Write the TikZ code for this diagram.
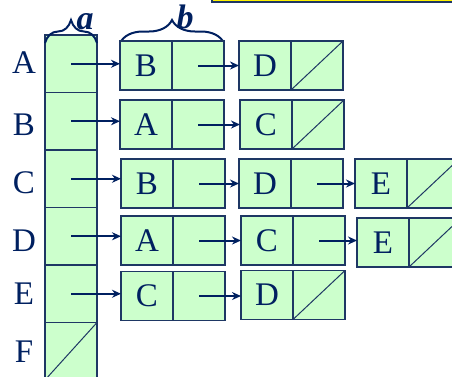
\documentclass[tikz,border=0pt]{standalone}
\usepackage{fontspec}
\setmainfont{Liberation Serif}
\usetikzlibrary{positioning,arrows.meta,decorations.pathreplacing}
\definecolor{xanhnhat}{RGB}{204,255,204}
\definecolor{xanhdam}{RGB}{0,32,96}
\definecolor{vien}{RGB}{30,55,100}
\tikzset{
  o/.style={draw=vien,fill=xanhnhat,line width=1.2pt,minimum width=52pt,
    minimum height=49pt,inner sep=0pt,outer sep=0pt,
    font=\fontsize{33}{33}\selectfont,text=xanhdam},
  onil/.style={o,path picture={\draw[vien,line width=1pt]
    (path picture bounding box.south west) -- (path picture bounding box.north east);}},
  cot/.style={o,minimum height=57.5pt},
  nhan/.style={font=\fontsize{33}{33}\selectfont,text=xanhdam,inner sep=0pt},
  mui/.style={draw=xanhdam,line width=2pt,-{Stealth[length=9pt,width=8pt]}},
  ngoac/.style={draw=xanhdam,line width=2pt,
    decorate,decoration={brace,amplitude=23pt}},
  chu/.style={font=\fontsize{34}{34}\selectfont\bfseries\itshape,text=xanhdam}
}
\begin{document}
\begin{tikzpicture}[x=1pt,y=-1pt]
\clip (0,0) rectangle (452,376);
% khung vàng phía trên
\draw[vien,fill=yellow,line width=1.2pt] (212,-10) rectangle (470,2);
% cột mảng và nhãn các đỉnh
\foreach \ch/\y [count=\i] in {A/63,B/125,C/183,D/241,E/294,F/352} {
  \node[cot] (c\ch) at (71,6.25+57.5*\i) {};
  \node[nhan] (l\ch) at (24,\y) {\ch};
}
\node[onil,minimum height=57.5pt] (cF) at (71,351.25) {};
% dấu ngoặc a, b
\draw[ngoac] (45,43) -- (97,43);
\node[chu] (na) at (85,22) {a};
\draw[ngoac] (120,43) -- (224,43);
\node[chu] (nb) at (185,17) {b};
% hàng A
\node[o] (A1) at (146,65.5) {B};
\node[o,right=0pt of A1] (A1p) {};
\node[o] (A2) at (265,65.5) {D};
\node[onil,right=0pt of A2] (A2p) {};
% hàng B
\node[o] (B1) at (146,124.5) {A};
\node[o,right=0pt of B1] (B1p) {};
\node[o] (B2) at (266,124.5) {C};
\node[onil,right=0pt of B2] (B2p) {};
% hàng C
\node[o] (C1) at (147,183.5) {B};
\node[o,right=0pt of C1] (C1p) {};
\node[o] (C2) at (265,183.5) {D};
\node[o,right=0pt of C2] (C2p) {};
\node[o] (C3) at (381,183.5) {E};
\node[onil,right=0pt of C3] (C3p) {};
% hàng D
\node[o] (D1) at (147,240.5) {A};
\node[o,right=0pt of D1] (D1p) {};
\node[o] (D2) at (267,240.5) {C};
\node[o,right=0pt of D2] (D2p) {};
\node[o] (D3) at (383,242.5) {E};
\node[onil,right=0pt of D3] (D3p) {};
% hàng E
\node[o] (E1) at (147,296) {C};
\node[o,right=0pt of E1] (E1p) {};
\node[o] (E2) at (267,295) {D};
\node[onil,right=0pt of E2] (E2p) {};
% các mũi tên
\foreach \r in {A,B,C,D,E}
  \draw[mui] (c\r.center) -- (c\r.center -| \r1.west);
\foreach \a/\b in {A1p/A2,B1p/B2,C1p/C2,C2p/C3,D1p/D2,D2p/D3,E1p/E2}
  \draw[mui] (\a.center) -- (\a.center -| \b.west);
\end{tikzpicture}
\end{document}
